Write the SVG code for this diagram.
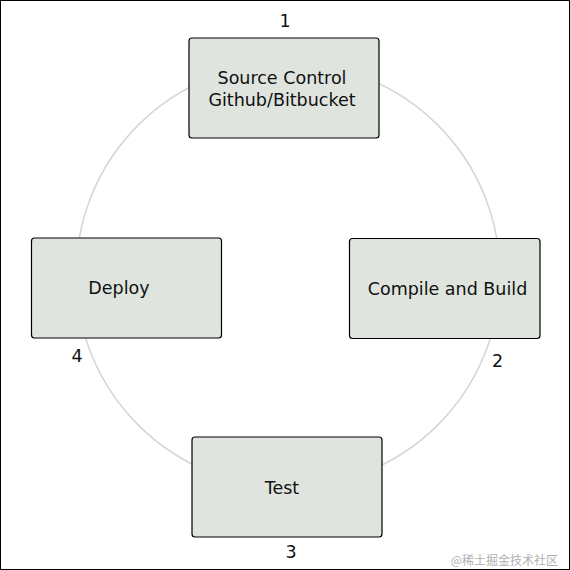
<svg xmlns="http://www.w3.org/2000/svg" width="570" height="570" viewBox="0 0 570 570">
<style>
.box{fill:#dfe4df;stroke:#000;stroke-width:1.2}
.t{font-family:"DejaVu Sans","Liberation Sans",sans-serif;font-size:17.5px;fill:#111;text-anchor:middle}
.ring{fill:none;stroke:#d6d6d6;stroke-width:1.6}
</style>
<rect x="0.5" y="0.5" width="569" height="569" fill="#fff" stroke="#000" stroke-width="1"/>
<g id="connectors">
<circle class="ring" cx="288" cy="275" r="212"/>
</g>
<g id="node-source">
<rect class="box" x="189" y="38" width="190" height="100" rx="3"/>
<text class="t" x="282" y="84">Source Control</text>
<text class="t" x="282" y="106">Github/Bitbucket</text>
</g>
<g id="node-compile">
<rect class="box" x="349.5" y="238.5" width="190.5" height="100" rx="3"/>
<text class="t" x="447.5" y="295">Compile and Build</text>
</g>
<g id="node-test">
<rect class="box" x="192" y="437" width="190" height="100" rx="3"/>
<text class="t" x="282" y="494">Test</text>
</g>
<g id="node-deploy">
<rect class="box" x="31.5" y="238" width="190" height="100" rx="3"/>
<text class="t" x="119" y="294">Deploy</text>
</g>
<g id="labels">
<text class="t" x="285" y="27">1</text>
<text class="t" x="497.5" y="367">2</text>
<text class="t" x="291" y="558">3</text>
<text class="t" x="77" y="362">4</text>
</g>
<text x="558" y="565" font-family="'Noto Sans CJK SC',sans-serif" font-size="12" fill="#b0b0b0" text-anchor="end">@稀土掘金技术社区</text>
</svg>
